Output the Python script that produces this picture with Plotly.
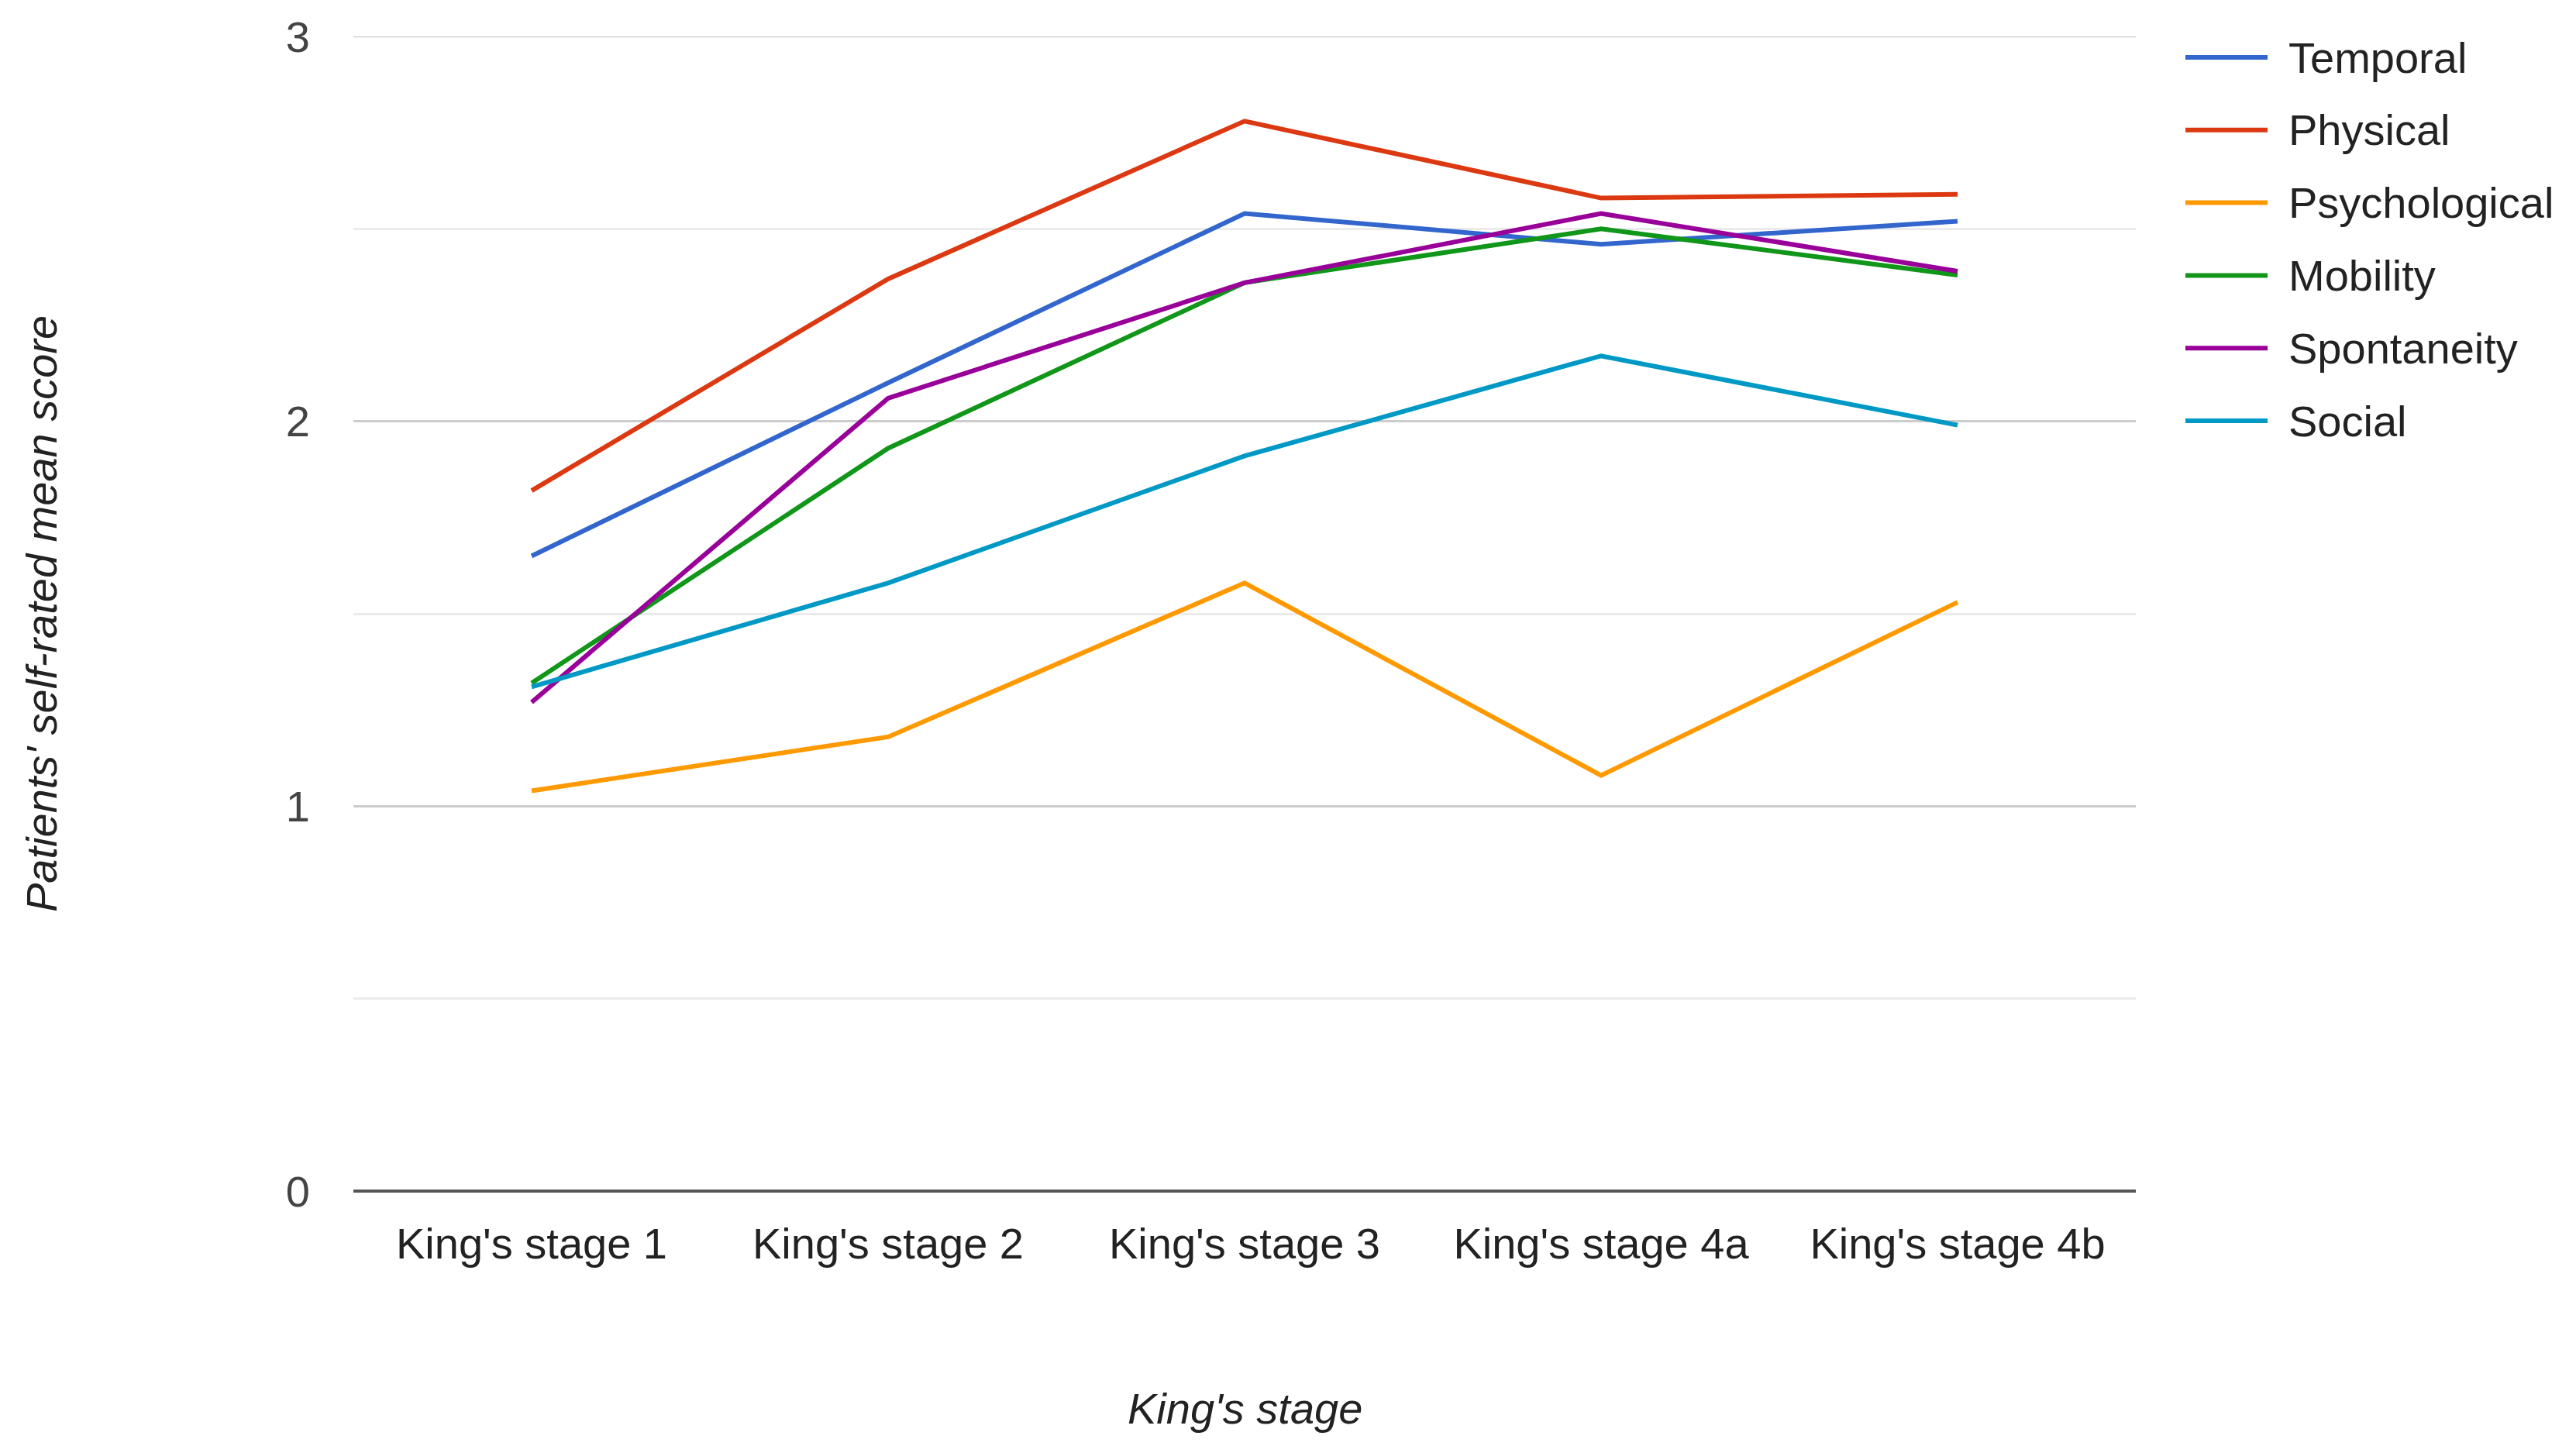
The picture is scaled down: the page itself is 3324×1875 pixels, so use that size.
import plotly.graph_objects as go

categories = ["King's stage 1", "King's stage 2", "King's stage 3", "King's stage 4a", "King's stage 4b"]

temporal = [1.65, 2.10, 2.54, 2.46, 2.52]
physical = [1.82, 2.37, 2.78, 2.58, 2.59]
psychological = [1.04, 1.18, 1.58, 1.08, 1.53]
mobility = [1.32, 1.93, 2.36, 2.50, 2.38]
spontaneity = [1.27, 2.06, 2.36, 2.54, 2.39]
social = [1.31, 1.58, 1.91, 2.17, 1.99]

series_names = ["Temporal", "Physical", "Psychological", "Mobility", "Spontaneity", "Social"]
series_values = [temporal, physical, psychological, mobility, spontaneity, social]
series_colors = ["#3366cc", "#dc3912", "#ff9900", "#109618", "#990099", "#0099c6"]

y_tickvals = [0, 1, 2, 3]
y_minor_vals = [0.5, 1.5, 2.5]

W, H = 3324, 1875
OFF = 8  # page body margin
L, R, T, B = 456 - OFF, 568 + OFF, 47 - OFF, 338 + OFF
plot_w = W - L - R
plot_h = H - T - B

FONT = "Liberation Sans, Arial, sans-serif"
FS = 56

fig = go.Figure()
for name, vals, col in zip(series_names, series_values, series_colors):
    fig.add_trace(go.Scatter(
        x=categories, y=vals, name=name, mode="lines",
        line=dict(color=col, width=6), showlegend=False,
    ))

# Manual legend (long line swatches like the original)
leg_x0 = (2820 - OFF - L) / plot_w
leg_x1 = (2926 - OFF - L) / plot_w
leg_tx = (2951 - OFF - L) / plot_w
shapes = []
annotations = []
for i, (name, col) in enumerate(zip(series_names, series_colors)):
    ypx = 74 - OFF + i * 93.8
    yp = (H - B - ypx) / plot_h
    shapes.append(dict(type="line", xref="paper", yref="paper",
                       x0=leg_x0, x1=leg_x1, y0=yp, y1=yp,
                       line=dict(color=col, width=6)))
    annotations.append(dict(text=name, xref="paper", yref="paper",
                            x=leg_tx, y=yp, xanchor="left", yanchor="middle",
                            showarrow=False, font=dict(size=FS, color="#222222", family=FONT)))

# top gridline at y = 3 (plotly hides grid lines on the range edge)
shapes.append(dict(type="line", xref="paper", yref="y", x0=0, x1=1, y0=y_tickvals[-1], y1=y_tickvals[-1],
                   layer="below", line=dict(color="#cccccc", width=2.5)))

# Axis titles
annotations.append(dict(text="<i>Patients' self-rated mean score</i>", xref="paper", yref="paper",
                        x=(53 - OFF - L) / plot_w, y=0.5, xanchor="center", yanchor="middle",
                        textangle=-90, showarrow=False,
                        font=dict(size=FS, color="#222222", family=FONT)))
annotations.append(dict(text="<i>King's stage</i>", xref="paper", yref="paper",
                        x=0.5, y=(H - B - (1817 - OFF)) / plot_h, xanchor="center", yanchor="middle",
                        showarrow=False,
                        font=dict(size=FS, color="#222222", family=FONT)))

fig.update_layout(
    width=W, height=H,
    margin=dict(l=L, r=R, t=T, b=B, autoexpand=False),
    paper_bgcolor="white", plot_bgcolor="white",
    font=dict(family=FONT, size=FS, color="#222222"),
    shapes=shapes, annotations=annotations,
    showlegend=False,
)
fig.update_xaxes(
    type="category", range=[-0.5, 4.5],
    showgrid=False, zeroline=False, showline=False,
    ticks="outside", ticklen=19, tickcolor="rgba(0,0,0,0)",
    tickfont=dict(size=FS, color="#222222", family=FONT),
)
fig.update_yaxes(
    range=[0, 3], tickvals=y_tickvals, ticktext=[str(v) for v in y_tickvals],
    showgrid=True, gridcolor="#cccccc", gridwidth=2.5,
    zeroline=True, zerolinecolor="#555555", zerolinewidth=4,
    showline=False,
    ticks="outside", ticklen=44, tickcolor="rgba(0,0,0,0)",
    tickfont=dict(size=FS, color="#444444", family=FONT),
    minor=dict(tickvals=y_minor_vals, showgrid=True, gridcolor="#ebebeb", gridwidth=2.5, ticks=""),
)

fig.write_html("out.html")
